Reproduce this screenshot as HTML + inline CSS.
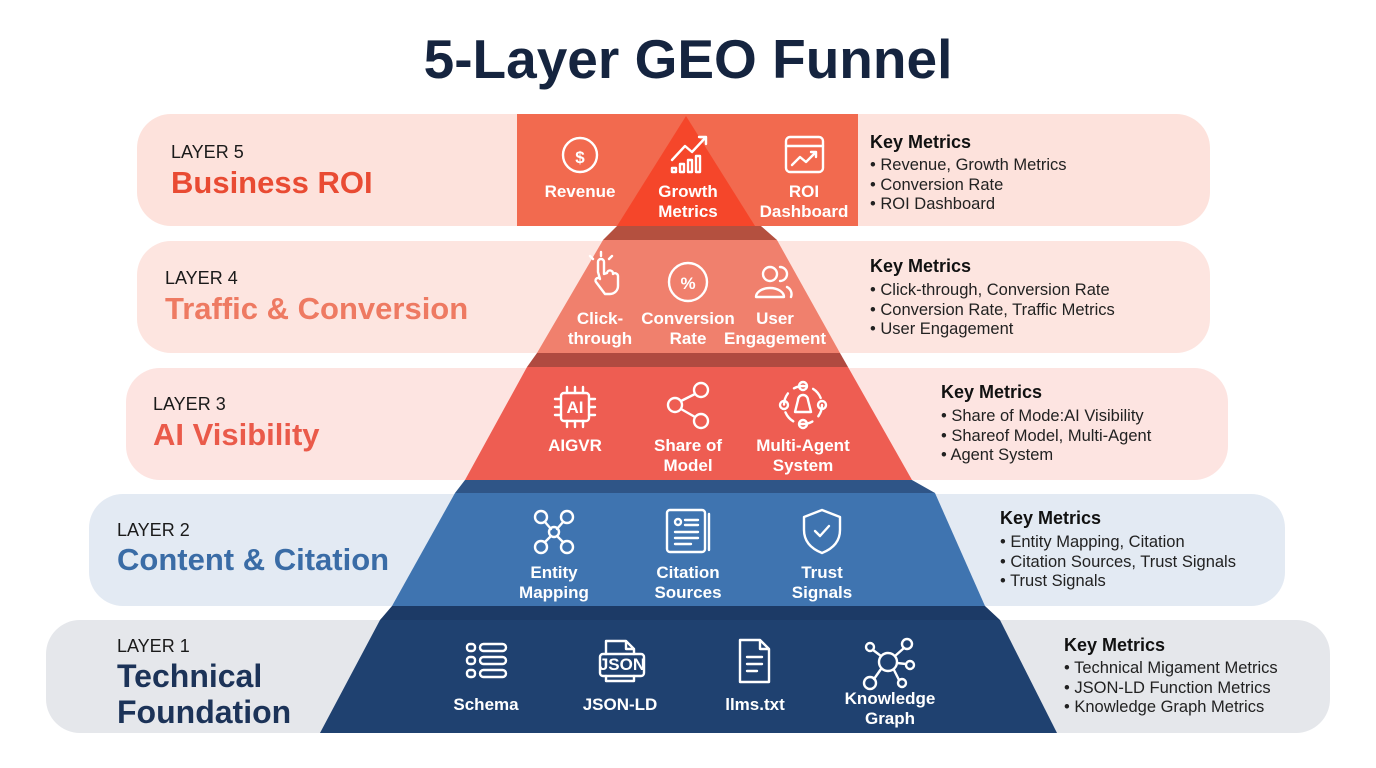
<!DOCTYPE html>
<html><head><meta charset="utf-8"><style>
html,body{margin:0;padding:0;background:#fff;}
svg{display:block;font-family:"Liberation Sans",sans-serif;}
.wt{fill:#fff;font-weight:bold;font-size:17px;text-anchor:middle;}
.km{fill:#111;font-weight:bold;font-size:18px;}
.ki{fill:#222;font-size:16.5px;}
.ly{fill:#1a1a1a;font-size:18px;}
.ic{fill:none;stroke:#fff;stroke-width:2.4;stroke-linecap:round;stroke-linejoin:round;}
</style></head><body>
<svg width="1376" height="768" viewBox="0 0 1376 768">
<text x="688" y="78" text-anchor="middle" font-size="55" font-weight="bold" fill="#15243f">5-Layer GEO Funnel</text>

<!-- bands -->
<rect x="137" y="114" width="1073" height="112" rx="34" fill="#fde2dc"/>
<rect x="137" y="241" width="1073" height="112" rx="34" fill="#fde5e0"/>
<rect x="126" y="368" width="1102" height="112" rx="34" fill="#fde4e1"/>
<rect x="89" y="494" width="1196" height="112" rx="34" fill="#e3eaf3"/>
<rect x="46" y="620" width="1284" height="113" rx="34" fill="#e5e7eb"/>

<!-- L5 -->
<rect x="517" y="114" width="341" height="112" fill="#f26a4f"/>
<polygon points="686,116 755,226 617,226" fill="#f5462a"/>
<!-- connector 5-4 -->
<polygon points="617,226 761,226 777,240 603,240" fill="#b4503f"/>
<!-- L4 -->
<polygon points="603,240 777,240 840,353 537,353" fill="#f0806d"/>
<polygon points="537,353 840,353 848,367 527,367" fill="#b04a40"/>
<!-- L3 -->
<polygon points="527,367 848,367 912,480 465,480" fill="#ee5d52"/>
<polygon points="465,480 912,480 935,493 455,493" fill="#2f5587"/>
<!-- L2 -->
<polygon points="455,493 935,493 985,606 392,606" fill="#3f74b0"/>
<polygon points="392,606 985,606 1000,620 380,620" fill="#1c3a66"/>
<!-- L1 -->
<polygon points="380,620 1000,620 1057,733 320,733" fill="#1f4170"/>

<!-- left labels -->
<text x="171" y="158" class="ly">LAYER 5</text>
<text x="171" y="193" font-size="31" font-weight="bold" fill="#e94b33">Business ROI</text>
<text x="165" y="284" class="ly">LAYER 4</text>
<text x="165" y="319" font-size="31" font-weight="bold" fill="#ee7a62">Traffic &amp; Conversion</text>
<text x="153" y="410" class="ly">LAYER 3</text>
<text x="153" y="445" font-size="31" font-weight="bold" fill="#ea5a4a">AI Visibility</text>
<text x="117" y="536" class="ly">LAYER 2</text>
<text x="117" y="570" font-size="31" font-weight="bold" fill="#3a6ca6">Content &amp; Citation</text>
<text x="117" y="652" class="ly">LAYER 1</text>
<text x="117" y="687" font-size="32" font-weight="bold" fill="#1c3358">Technical</text>
<text x="117" y="723" font-size="32" font-weight="bold" fill="#1c3358">Foundation</text>

<!-- right metrics -->
<g><text x="870" y="148" class="km">Key Metrics</text>
<text x="870" y="170" class="ki">• Revenue, Growth Metrics</text>
<text x="870" y="190" class="ki">• Conversion Rate</text>
<text x="870" y="209" class="ki">• ROI Dashboard</text></g>
<g><text x="870" y="272" class="km">Key Metrics</text>
<text x="870" y="295" class="ki">• Click-through, Conversion Rate</text>
<text x="870" y="315" class="ki">• Conversion Rate, Traffic Metrics</text>
<text x="870" y="334" class="ki">• User Engagement</text></g>
<g><text x="941" y="398" class="km">Key Metrics</text>
<text x="941" y="421" class="ki">• Share of Mode:AI Visibility</text>
<text x="941" y="441" class="ki">• Shareof Model, Multi-Agent</text>
<text x="941" y="460" class="ki">• Agent System</text></g>
<g><text x="1000" y="524" class="km">Key Metrics</text>
<text x="1000" y="547" class="ki">• Entity Mapping, Citation</text>
<text x="1000" y="567" class="ki">• Citation Sources, Trust Signals</text>
<text x="1000" y="586" class="ki">• Trust Signals</text></g>
<g><text x="1064" y="651" class="km">Key Metrics</text>
<text x="1064" y="673" class="ki">• Technical Migament Metrics</text>
<text x="1064" y="693" class="ki">• JSON-LD Function Metrics</text>
<text x="1064" y="712" class="ki">• Knowledge Graph Metrics</text></g>

<!-- L5 icons -->
<circle cx="580" cy="155" r="17" class="ic"/>
<text x="580" y="163" class="wt" font-size="21" font-weight="normal">$</text>
<text x="580" y="197" class="wt">Revenue</text>
<path d="M672 160 L685 146 L692 152 L706 137 M699 137 L706 137 L706 144" class="ic"/>
<path d="M672 172 v-4 h4 v4z M680 172 v-8 h4 v8z M688 172 v-12 h4 v12z M696 172 v-16 h4 v16z" class="ic" stroke-width="2"/>
<text x="688" y="197" class="wt">Growth</text>
<text x="688" y="217" class="wt">Metrics</text>
<rect x="786" y="137" width="37" height="35" rx="4" class="ic"/>
<path d="M786 146 H823 M792 165 L800 157 L806 162 L816 152 M811 152 H816 V157" class="ic"/>
<text x="804" y="197" class="wt">ROI</text>
<text x="804" y="217" class="wt">Dashboard</text>

<!-- L4 icons -->
<path d="M598 272 v-10 a3 3 0 0 1 6 0 v12 l3 -1 a3 3 0 0 1 6 1 a3 3 0 0 1 5 2 v10 a8 8 0 0 1 -8 8 h-5 l-9 -12 a2.5 2.5 0 0 1 4 -3z" class="ic" stroke-width="2"/>
<path d="M601 256 v-4 M593 259 l-3 -3 M609 259 l3 -3" class="ic" stroke-width="2"/>
<text x="600" y="324" class="wt">Click-</text>
<text x="600" y="344" class="wt">through</text>
<circle cx="688" cy="282" r="19" class="ic"/>
<text x="688" y="289" class="wt" font-size="19" font-weight="normal">%</text>
<text x="688" y="324" class="wt">Conversion</text>
<text x="688" y="344" class="wt">Rate</text>
<circle cx="770" cy="274" r="7" class="ic"/>
<path d="M756 297 a14 9 0 0 1 28 0 z M780 267 a7 7 0 0 1 0 14 M787 287 a8 8 0 0 1 4 10" class="ic"/>
<text x="775" y="324" class="wt">User</text>
<text x="775" y="344" class="wt">Engagement</text>

<!-- L3 icons -->
<rect x="561" y="393" width="28" height="28" rx="3" class="ic"/>
<text x="575" y="413" class="wt" font-size="15" font-weight="normal">AI</text>
<path d="M567 393 v-6 M575 393 v-6 M583 393 v-6 M567 421 v6 M575 421 v6 M583 421 v6 M561 399 h-6 M561 407 h-6 M561 415 h-6 M589 399 h6 M589 407 h6 M589 415 h6" class="ic" stroke-width="2"/>
<text x="575" y="451" class="wt">AIGVR</text>
<circle cx="701" cy="390" r="7" class="ic"/><circle cx="675" cy="405" r="7" class="ic"/><circle cx="701" cy="421" r="7" class="ic"/>
<path d="M681 401 L695 394 M681 409 L695 417" class="ic"/>
<text x="688" y="451" class="wt">Share of</text>
<text x="688" y="471" class="wt">Model</text>
<circle cx="803" cy="405" r="19" class="ic" stroke-dasharray="12 8"/>
<circle cx="803" cy="386" r="4" class="ic" stroke-width="2"/><circle cx="803" cy="424" r="4" class="ic" stroke-width="2"/>
<circle cx="784" cy="405" r="4" class="ic" stroke-width="2"/><circle cx="822" cy="405" r="4" class="ic" stroke-width="2"/>
<path d="M795 412 L798 400 a5 5 0 0 1 10 0 L811 412 z" class="ic" stroke-width="2"/>
<text x="803" y="451" class="wt">Multi-Agent</text>
<text x="803" y="471" class="wt">System</text>

<!-- L2 icons -->
<circle cx="541" cy="517" r="6" class="ic"/><circle cx="567" cy="517" r="6" class="ic"/>
<circle cx="554" cy="532" r="5" class="ic"/>
<circle cx="541" cy="547" r="6" class="ic"/><circle cx="567" cy="547" r="6" class="ic"/>
<path d="M545 522 L551 529 M563 522 L557 529 M551 536 L545 542 M557 536 L563 542" class="ic"/>
<text x="554" y="578" class="wt">Entity</text>
<text x="554" y="598" class="wt">Mapping</text>
<rect x="667" y="510" width="38" height="42" rx="3" class="ic"/>
<path d="M709 514 v36" class="ic"/>
<circle cx="678" cy="522" r="3" class="ic" stroke-width="2"/>
<path d="M685 520 h13 M685 525 h13 M675 532 h23 M675 538 h23 M675 544 h16" class="ic" stroke-width="2"/>
<text x="688" y="578" class="wt">Citation</text>
<text x="688" y="598" class="wt">Sources</text>
<path d="M822 510 L840 517 V530 C840 542 832 549 822 553 C812 549 804 542 804 530 V517 Z" class="ic"/>
<path d="M815 531 L820 536 L829 526" class="ic"/>
<text x="822" y="578" class="wt">Trust</text>
<text x="822" y="598" class="wt">Signals</text>

<!-- L1 icons -->
<g class="ic" stroke-width="2.2">
<rect x="467" y="644" width="8" height="7" rx="3"/><rect x="480" y="644" width="26" height="7" rx="3.5"/>
<rect x="467" y="657" width="8" height="7" rx="3"/><rect x="480" y="657" width="26" height="7" rx="3.5"/>
<rect x="467" y="670" width="8" height="7" rx="3"/><rect x="480" y="670" width="26" height="7" rx="3.5"/>
<path d="M606 654 V641 h20 l8 8 v5 M634 676 v5 h-28 v-5 M626 641 v8 h8"/>
<rect x="600" y="654" width="44" height="22" rx="3"/>
<path d="M740 640 h20 l9 9 v33 h-29 z M760 640 v9 h9 M747 657 h15 M747 664 h15 M747 671 h10"/>
<circle cx="888" cy="662" r="9"/>
<circle cx="870" cy="647" r="4"/><circle cx="907" cy="644" r="5"/><circle cx="910" cy="665" r="4"/><circle cx="870" cy="683" r="6"/><circle cx="902" cy="683" r="4"/>
<path d="M873 650 L881 656 M904 648 L895 656 M906 664 L897 663 M874 679 L881 669 M899 680 L894 670"/>
</g>
<text x="486" y="710" class="wt">Schema</text>
<text x="620" y="710" class="wt">JSON-LD</text>
<text x="755" y="710" class="wt">llms.txt</text>
<text x="890" y="704" class="wt">Knowledge</text>
<text x="890" y="724" class="wt">Graph</text>
<text x="622" y="670" class="wt" font-size="12" font-weight="normal">JSON</text>
</svg>
</body></html>
